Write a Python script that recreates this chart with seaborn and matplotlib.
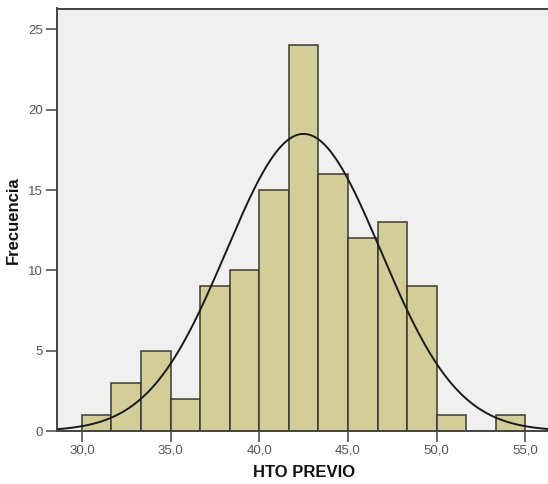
import numpy as np
import pandas as pd
import matplotlib
matplotlib.use("Agg")
import matplotlib.pyplot as plt
import seaborn as sns

# Histogram of HTO PREVIO: 15 bins of width 5/3 from 30 to 55
bin_edges = [30 + i * 5 / 3 for i in range(16)]
frequencies = [1, 3, 5, 2, 9, 10, 15, 24, 16, 12, 13, 9, 1, 0, 1]
x_ticks = [30, 35, 40, 45, 50, 55]
x_tick_labels = ["30,0", "35,0", "40,0", "45,0", "50,0", "55,0"]
y_ticks = [0, 5, 10, 15, 20, 25]

# Normal curve parameters
mean_hto = 42.5
sd_hto = 4.35

centers = [(a + b) / 2 for a, b in zip(bin_edges[:-1], bin_edges[1:])]
df = pd.DataFrame({"hto": centers, "n": frequencies})

sns.set_style("white")
plt.rcParams["font.family"] = ["Liberation Sans", "DejaVu Sans"]

fig = plt.figure(figsize=(5.48, 4.84), dpi=100)
ax = fig.add_axes([57 / 548, 1 - 431 / 484, 1 - 57 / 548 + 0.004, (431 - 8.5) / 484])
ax.set_facecolor("#F0F0F0")

sns.histplot(data=df, x="hto", weights="n", bins=bin_edges, ax=ax,
             color="#D3CE99", edgecolor="#3A3A2E", linewidth=1.1, alpha=1)

# Fitted normal curve scaled to counts
n_total = sum(frequencies)
width = bin_edges[1] - bin_edges[0]
xs = np.linspace(28.5, 56.5, 400)
ys = n_total * width / (sd_hto * np.sqrt(2 * np.pi)) * np.exp(-0.5 * ((xs - mean_hto) / sd_hto) ** 2)
sns.lineplot(x=xs, y=ys, ax=ax, color="#1A1A1A", linewidth=1.4)

ax.set_xlim(28.6, 56.4)
ax.set_ylim(0, 26.3)
ax.set_xticks(x_ticks)
ax.set_xticklabels(x_tick_labels)
ax.set_yticks(y_ticks)
ax.tick_params(axis="both", which="major", direction="out", length=8, width=1.1,
               color="#444444", labelcolor="#555555", labelsize=9.5, pad=2,
               bottom=True, left=True)

for side in ["left", "top", "bottom"]:
    ax.spines[side].set_visible(True)
    ax.spines[side].set_color("#444444")
    ax.spines[side].set_linewidth(1.4)
ax.spines["right"].set_visible(False)

ax.set_xlabel("HTO PREVIO", fontsize=12, fontweight="bold", color="#111111", labelpad=6)
ax.set_ylabel("Frecuencia", fontsize=12, fontweight="bold", color="#111111", labelpad=5)

fig.savefig("out.png", dpi=100)
